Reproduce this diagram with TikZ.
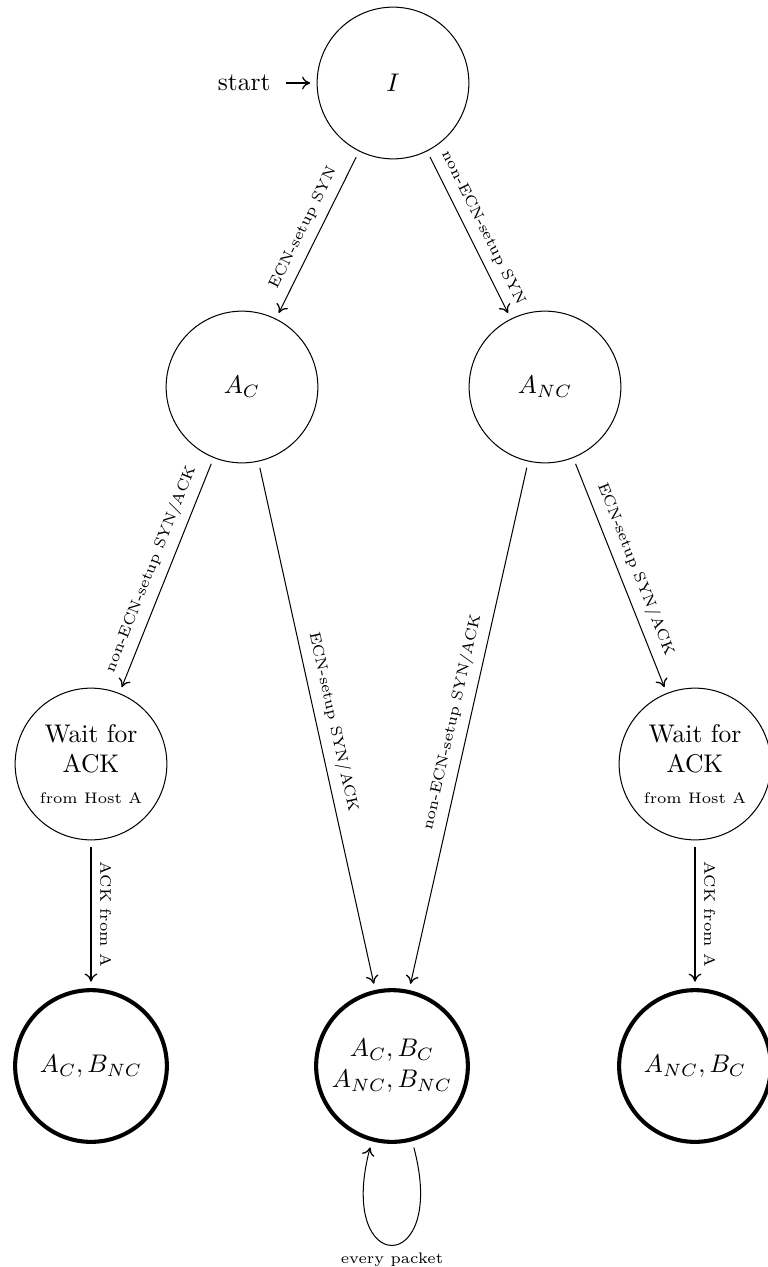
\documentclass[tikz,border=0pt]{standalone}
\usetikzlibrary{positioning,arrows.meta}
\newcommand\lblsz{\fontsize{6}{7}\selectfont}
\begin{document}
\begin{tikzpicture}[x=0.39216pt,y=-0.39216pt,
  st/.style={circle,draw,line width=0.4pt,minimum size=59.5pt,inner sep=1pt,align=center},
  acc/.style={st,line width=1.6pt},
  tr/.style={-{Computer Modern Rightarrow[length=3.2pt,width=5pt,line width=0.5pt]},line width=0.4pt,shorten <=2.5pt,shorten >=2.5pt},
  lbl/.style={font=\lblsz,sloped,above},
  vlbl/.style={font=\lblsz,rotate=-90,anchor=south}]
\useasboundingbox (0,0) rectangle (767,1267);
\node[st] (I) at (393,83) {$I$};
\node[anchor=east] (start) at (279.5,83) {start};
\node[st] (AC) at (242,387) {$A_C$};
\node[st] (ANC) at (545,387) {$A_{NC}$};
\node[st] (WL) at (91,764) {Wait for\\ACK\\{\lblsz from Host A}};
\node[st] (WR) at (695,764) {Wait for\\ACK\\{\lblsz from Host A}};
\node[acc] (BL) at (91,1066) {$A_C, B_{NC}$};
\node[acc] (BM) at (392,1066) {$A_C, B_C$\\$A_{NC}, B_{NC}$};
\node[acc] (BR) at (695,1066) {$A_{NC}, B_C$};
\draw[tr] (start) -- (I);
\draw[tr] (I) -- node[lbl]{ECN-setup SYN} (AC);
\draw[tr] (I) -- node[lbl]{non-ECN-setup SYN} (ANC);
\draw[tr] (AC) -- node[lbl]{non-ECN-setup SYN/ACK} (WL);
\draw[tr] (AC) -- node[lbl]{ECN-setup SYN/ACK} (BM);
\draw[tr] (ANC) -- node[lbl]{non-ECN-setup SYN/ACK} (BM);
\draw[tr] (ANC) -- node[lbl]{ECN-setup SYN/ACK} (WR);
\draw[tr] (WL) -- node[vlbl]{ACK from A} (BL);
\draw[tr] (WR) -- node[vlbl]{ACK from A} (BR);
\draw[tr] (BM) to[out=-75,in=-105,looseness=9] node[below,font=\lblsz]{every packet} (BM);
\end{tikzpicture}
\end{document}
